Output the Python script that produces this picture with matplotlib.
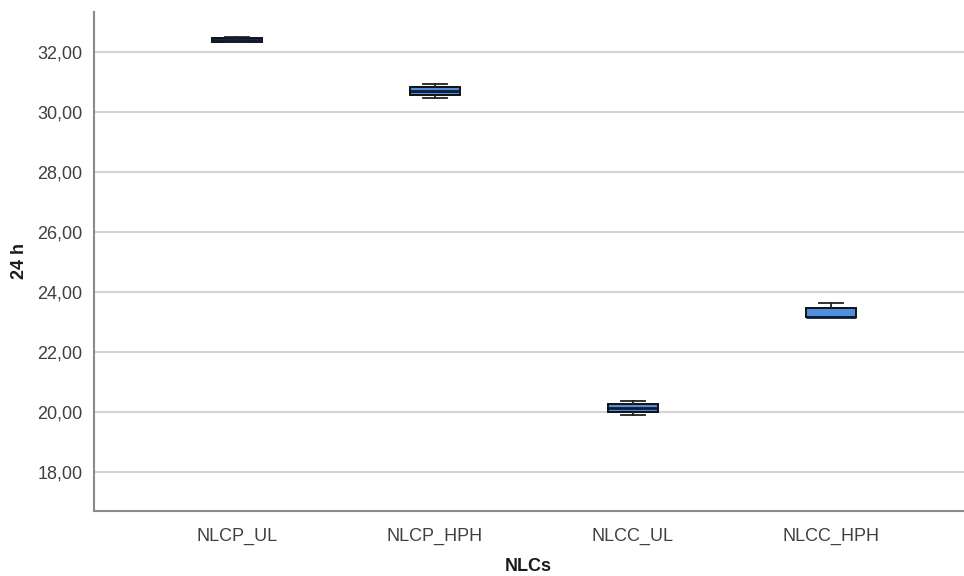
import matplotlib
matplotlib.use("Agg")
import matplotlib.pyplot as plt
from matplotlib.ticker import FuncFormatter

categories = ["NLCP_UL", "NLCP_HPH", "NLCC_UL", "NLCC_HPH"]
whisker_low = [32.33, 30.47, 19.90, 23.15]
q1 = [32.34, 30.58, 20.01, 23.15]
median = [32.40, 30.71, 20.14, 23.16]
q3 = [32.46, 30.82, 20.26, 23.45]
whisker_high = [32.51, 30.93, 20.36, 23.63]
y_ticks = [18, 20, 22, 24, 26, 28, 30, 32]

plt.rcParams['font.family'] = ['Liberation Sans', 'DejaVu Sans']

fig = plt.figure(figsize=(9.64, 5.76), dpi=100)
ax = fig.add_axes([93.5 / 964, (576 - 510.7) / 576, (964 - 93.5) / 964, (510.7 - 12) / 576])

stats = []
for i, c in enumerate(categories):
    stats.append(dict(label=c, whislo=whisker_low[i], q1=q1[i], med=median[i],
                      q3=q3[i], whishi=whisker_high[i], fliers=[]))

positions = list(range(1, len(categories) + 1))
ax.bxp(stats, positions=positions, widths=0.25, capwidths=0.125, patch_artist=True,
       showfliers=False,
       boxprops=dict(facecolor='#4f8fdf', edgecolor='#111111', linewidth=1.4),
       medianprops=dict(color='#0d1b33', linewidth=2.0),
       whiskerprops=dict(color='#222222', linewidth=1.3),
       capprops=dict(color='#222222', linewidth=1.3),
       zorder=3)

ax.set_xlim(0.275, 4.672)
ax.set_ylim(16.71, 33.33)
ax.set_yticks(y_ticks)
ax.yaxis.set_major_formatter(FuncFormatter(lambda v, p: f"{v:.2f}".replace('.', ',')))
ax.set_xticks(positions)
ax.set_xticklabels(categories)

ax.grid(axis='y', color='#d4d4d4', linewidth=1.5, zorder=0)
ax.set_axisbelow(True)
for s in ['top', 'right']:
    ax.spines[s].set_visible(False)
for s in ['left', 'bottom']:
    ax.spines[s].set_color('#8a8a8a')
    ax.spines[s].set_linewidth(1.5)

ax.tick_params(axis='both', length=0, labelsize=13, colors='#404040')
ax.tick_params(axis='x', pad=12)
ax.tick_params(axis='y', pad=8)

ax.set_xlabel("NLCs", fontsize=13, fontweight='bold', color='#1a1a1a', va='center')
ax.set_ylabel("24 h", fontsize=13, fontweight='bold', color='#1a1a1a', va='center')
ax.xaxis.set_label_coords(0.5, -55.5 / 498.7)
ax.yaxis.set_label_coords(-73.5 / 870.5, 0.5)

fig.savefig("out.png", dpi=100)
